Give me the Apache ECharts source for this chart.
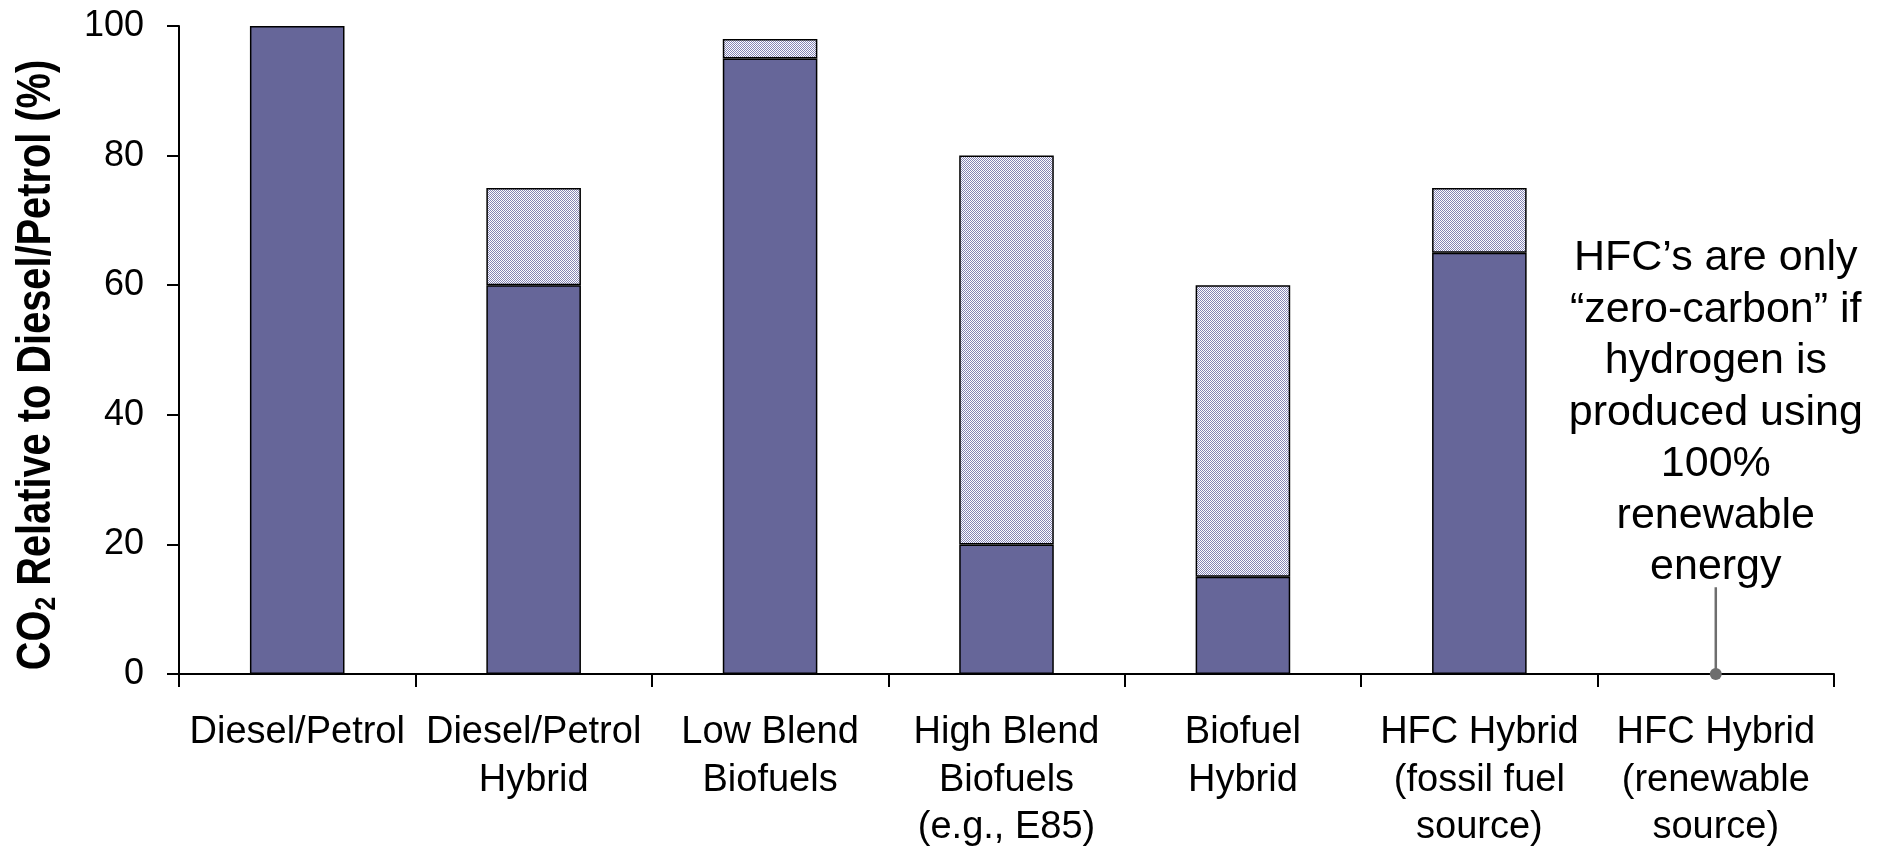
<!DOCTYPE html>
<html>
<head>
<meta charset="utf-8">
<title>CO2 relative to Diesel/Petrol</title>
<script src="https://cdn.jsdelivr.net/npm/echarts@6/dist/echarts.min.js"></script>
<style>
  html, body { margin: 0; padding: 0; background: #ffffff; }
  #chart { width: 1890px; height: 847px; }
</style>
</head>
<body>
<div id="chart"></div>
<script>
// Vehicle / fuel options
const categories = [
  'Diesel/Petrol',
  'Diesel/Petrol\nHybrid',
  'Low Blend\nBiofuels',
  'High Blend\nBiofuels\n(e.g., E85)',
  'Biofuel\nHybrid',
  'HFC Hybrid\n(fossil fuel\nsource)',
  'HFC Hybrid\n(renewable\nsource)'
];
// Lower end of the CO2 range (% of diesel/petrol), solid bars
const lowValues = [100, 60, 95, 20, 15, 65, 0];
// Upper end of the CO2 range (% of diesel/petrol), top of hatched bars
const highValues = [100, 75, 98, 80, 60, 75, 0];
// Y-axis ticks
const yTicks = { min: 0, max: 100, interval: 20 };
// Callout for the renewable-hydrogen case
const calloutCategory = 6;
const calloutLineTop = 13.4;
const calloutText = 'HFC\u2019s are only\n\u201Czero-carbon\u201D if\nhydrogen is\nproduced using\n100%\nrenewable\nenergy';
const yTitleParts = ['CO', '2', ' Relative to Diesel/Petrol (%)'];

const FONT = "'Liberation Sans', Arial, sans-serif";

// Fine checkerboard fill for the range segment
function checkerPattern() {
  const c = document.createElement('canvas');
  c.width = 2; c.height = 2;
  const g = c.getContext('2d');
  g.fillStyle = '#ffffff';
  g.fillRect(0, 0, 2, 2);
  g.fillStyle = '#8484b4';
  g.fillRect(0, 0, 1, 1);
  g.fillRect(1, 1, 1, 1);
  return c;
}

const solidData = lowValues.map(v => (v > 0 ? v : '-'));
const rangeData = highValues.map((h, i) => (h - lowValues[i] > 0 ? h - lowValues[i] : '-'));

const chart = echarts.init(document.getElementById('chart'), null, { renderer: 'canvas' });

chart.setOption({
  backgroundColor: '#ffffff',
  animation: false,
  grid: { left: 179, right: 56, top: 26, bottom: 173, containLabel: false, outerBoundsMode: 'none' },
  // Condensed bold axis title, rotated to read bottom-to-top
  graphic: [
    {
      type: 'text',
      x: 37,
      y: 365,
      rotation: Math.PI / 2,
      scaleX: 0.82,
      style: {
        text: '{b|' + yTitleParts[0] + '}{s|' + yTitleParts[1] + '}{b|' + yTitleParts[2] + '}',
        align: 'center',
        verticalAlign: 'middle',
        rich: {
          b: { fontFamily: FONT, fontWeight: 'bold', fontSize: 48.5, fill: '#000000', lineHeight: 58 },
          s: { fontFamily: FONT, fontWeight: 'bold', fontSize: 30, fill: '#000000', lineHeight: 58, padding: [20, 0, 0, 0] }
        }
      }
    }
  ],
  xAxis: {
    type: 'category',
    data: categories,
    boundaryGap: true,
    axisLine: { show: true, lineStyle: { color: '#000000', width: 2 } },
    axisTick: { show: true, length: 13, lineStyle: { color: '#000000', width: 2 } },
    axisLabel: {
      interval: 0,
      margin: 35,
      color: '#000000',
      fontFamily: FONT,
      fontSize: 38,
      lineHeight: 47.5
    }
  },
  yAxis: {
    type: 'value',
    min: yTicks.min,
    max: yTicks.max,
    interval: yTicks.interval,
    axisLine: { show: true, lineStyle: { color: '#000000', width: 2 } },
    axisTick: { show: true, length: 12, lineStyle: { color: '#000000', width: 2 } },
    splitLine: { show: false },
    axisLabel: {
      margin: 35,
      color: '#000000',
      fontFamily: FONT,
      fontSize: 36
    }
  },
  series: [
    {
      name: 'Low',
      type: 'bar',
      stack: 'co2',
      barWidth: '40%',
      data: solidData,
      itemStyle: { color: '#666699', borderColor: '#000000', borderWidth: 1.5 }
    },
    {
      name: 'Range',
      type: 'bar',
      stack: 'co2',
      barWidth: '40%',
      data: rangeData,
      itemStyle: {
        color: { image: checkerPattern(), repeat: 'repeat' },
        borderColor: '#000000',
        borderWidth: 1.5
      }
    },
    {
      name: 'Callout line',
      type: 'line',
      data: [[calloutCategory, 0], [calloutCategory, calloutLineTop]],
      symbol: 'none',
      lineStyle: { color: '#6e6e6e', width: 2.5 },
      z: 5
    },
    {
      name: 'Callout dot',
      type: 'scatter',
      data: [[calloutCategory, 0]],
      symbol: 'circle',
      symbolSize: 12,
      itemStyle: { color: '#6e6e6e', opacity: 1 },
      z: 6
    },
    {
      name: 'Callout text',
      type: 'scatter',
      data: [[calloutCategory, calloutLineTop]],
      symbolSize: 0,
      itemStyle: { opacity: 1 },
      label: {
        show: true,
        position: 'top',
        distance: -6,
        formatter: calloutText,
        color: '#000000',
        fontFamily: FONT,
        fontSize: 43,
        lineHeight: 51.5,
        align: 'center'
      },
      z: 6
    }
  ]
});
</script>
</body>
</html>
